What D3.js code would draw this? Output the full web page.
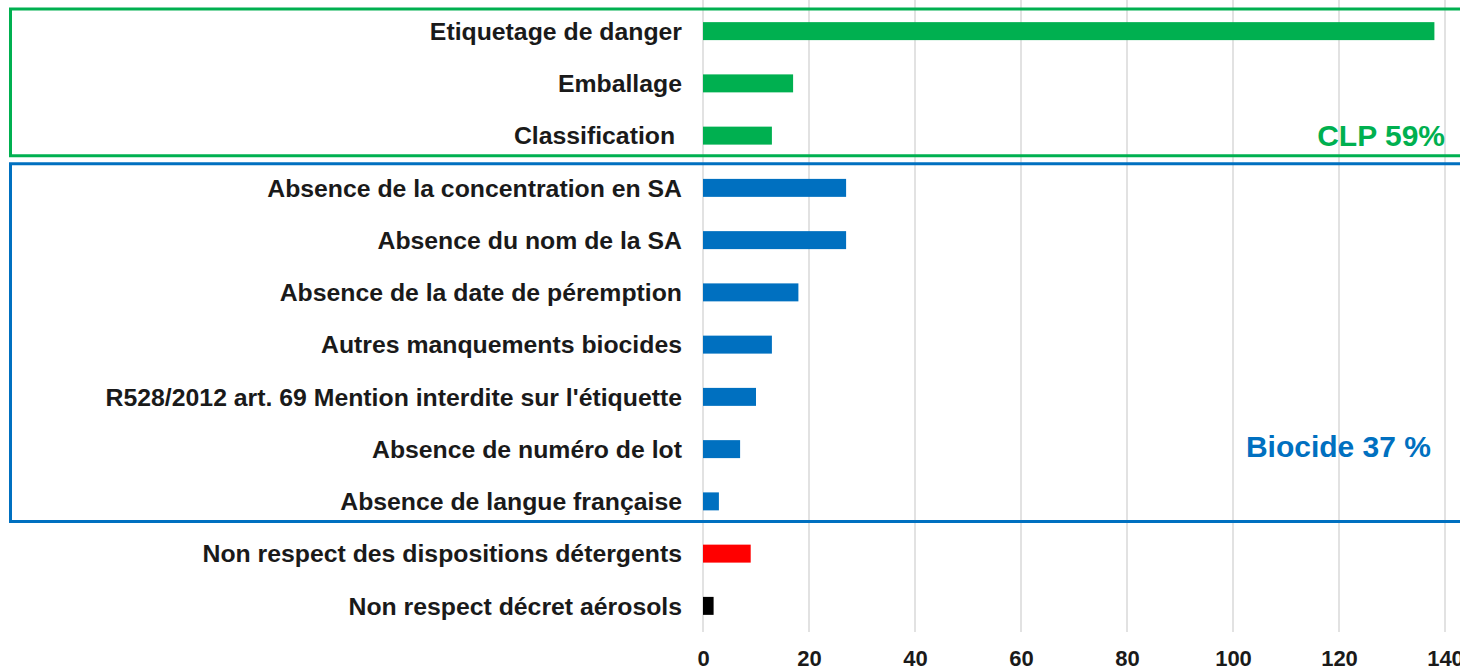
<!DOCTYPE html>
<html>
<head>
<meta charset="utf-8">
<script src="https://cdn.jsdelivr.net/npm/d3@7"></script>
<style>
  html, body { margin: 0; padding: 0; background: #fff; }
  svg { display: block; }
  text { font-family: "Liberation Sans", Arial, sans-serif; font-weight: bold; }
</style>
</head>
<body>
<svg id="chart" width="1460" height="671"></svg>
<script>
const categories = [
  "Etiquetage de danger",
  "Emballage",
  "Classification ",
  "Absence de la concentration en SA",
  "Absence du nom de la SA",
  "Absence de la date de péremption",
  "Autres manquements biocides",
  "R528/2012 art. 69 Mention interdite sur l'étiquette",
  "Absence de numéro de lot",
  "Absence de langue française",
  "Non respect des dispositions détergents",
  "Non respect décret aérosols"
];
const values = [138, 17, 13, 27, 27, 18, 13, 10, 7, 3, 9, 2];
const groups = ["CLP", "CLP", "CLP", "Biocide", "Biocide", "Biocide", "Biocide", "Biocide", "Biocide", "Biocide", "Détergent", "Aérosol"];
const groupColors = { "CLP": "#00b050", "Biocide": "#0070c0", "Détergent": "#ff0000", "Aérosol": "#000000" };
const tickValues = [0, 20, 40, 60, 80, 100, 120, 140];
const boxLabels = [
  { group: "CLP", text: "CLP 59%" },
  { group: "Biocide", text: "Biocide 37 %" }
];

const svg = d3.select("#chart");
const x = d3.scaleLinear().domain([0, 140]).range([703, 1445]);
const y = d3.scaleBand().domain(categories).range([5, 632]).paddingInner(0.656).paddingOuter(0.328);

// gridlines
svg.append("g").selectAll("line").data(tickValues).join("line")
  .attr("x1", d => x(d)).attr("x2", d => x(d))
  .attr("y1", 0).attr("y2", 632)
  .attr("stroke", "#d9d9d9").attr("stroke-width", 1.5);

// x axis tick labels
const xAxis = d3.axisBottom(x).tickValues(tickValues).tickSize(0).tickPadding(0);
const gx = svg.append("g").attr("transform", "translate(0,650)").call(xAxis);
gx.select(".domain").remove();
gx.selectAll("text")
  .attr("font-size", 22).attr("font-family", "Liberation Sans, Arial, sans-serif")
  .attr("font-weight", "bold").attr("fill", "#1a1a1a");

// bars
svg.append("g").selectAll("rect").data(categories).join("rect")
  .attr("x", x(0))
  .attr("y", d => y(d))
  .attr("width", (d, i) => x(values[i]) - x(0))
  .attr("height", y.bandwidth())
  .attr("fill", (d, i) => groupColors[groups[i]]);

// category labels
svg.append("g").selectAll("text").data(categories).join("text")
  .attr("x", 682)
  .attr("y", d => y(d) + y.bandwidth() / 2)
  .attr("dy", "0.35em")
  .attr("text-anchor", "end")
  .attr("font-size", 24.8)
  .attr("fill", "#1a1a1a")
  .style("white-space", "pre")
  .text(d => d);

// group boxes
const step = y.step();
function groupRange(g) {
  const idx = groups.map((v, i) => v === g ? i : -1).filter(i => i >= 0);
  const first = categories[idx[0]], last = categories[idx[idx.length - 1]];
  const c0 = y(first) + y.bandwidth() / 2, c1 = y(last) + y.bandwidth() / 2;
  return [c0 - step / 2, c1 + step / 2];
}
const clp = groupRange("CLP");
const bio = groupRange("Biocide");
svg.append("rect")
  .attr("x", 10.5).attr("y", clp[0] + 4)
  .attr("width", 1470).attr("height", (clp[1] - 6) - (clp[0] + 4))
  .attr("fill", "none").attr("stroke", groupColors["CLP"]).attr("stroke-width", 3);
svg.append("rect")
  .attr("x", 10.5).attr("y", bio[0] + 2)
  .attr("width", 1470).attr("height", (bio[1] - 6) - (bio[0] + 2))
  .attr("fill", "none").attr("stroke", groupColors["Biocide"]).attr("stroke-width", 3);

// box labels
svg.append("text")
  .attr("x", 1445).attr("y", clp[1] - 16)
  .attr("text-anchor", "end").attr("font-size", 30)
  .attr("fill", groupColors["CLP"]).text(boxLabels[0].text);
svg.append("text")
  .attr("x", 1431).attr("y", y(categories[8]) + y.bandwidth() / 2 + 8)
  .attr("text-anchor", "end").attr("font-size", 30)
  .attr("fill", groupColors["Biocide"]).text(boxLabels[1].text);
</script>
</body>
</html>
